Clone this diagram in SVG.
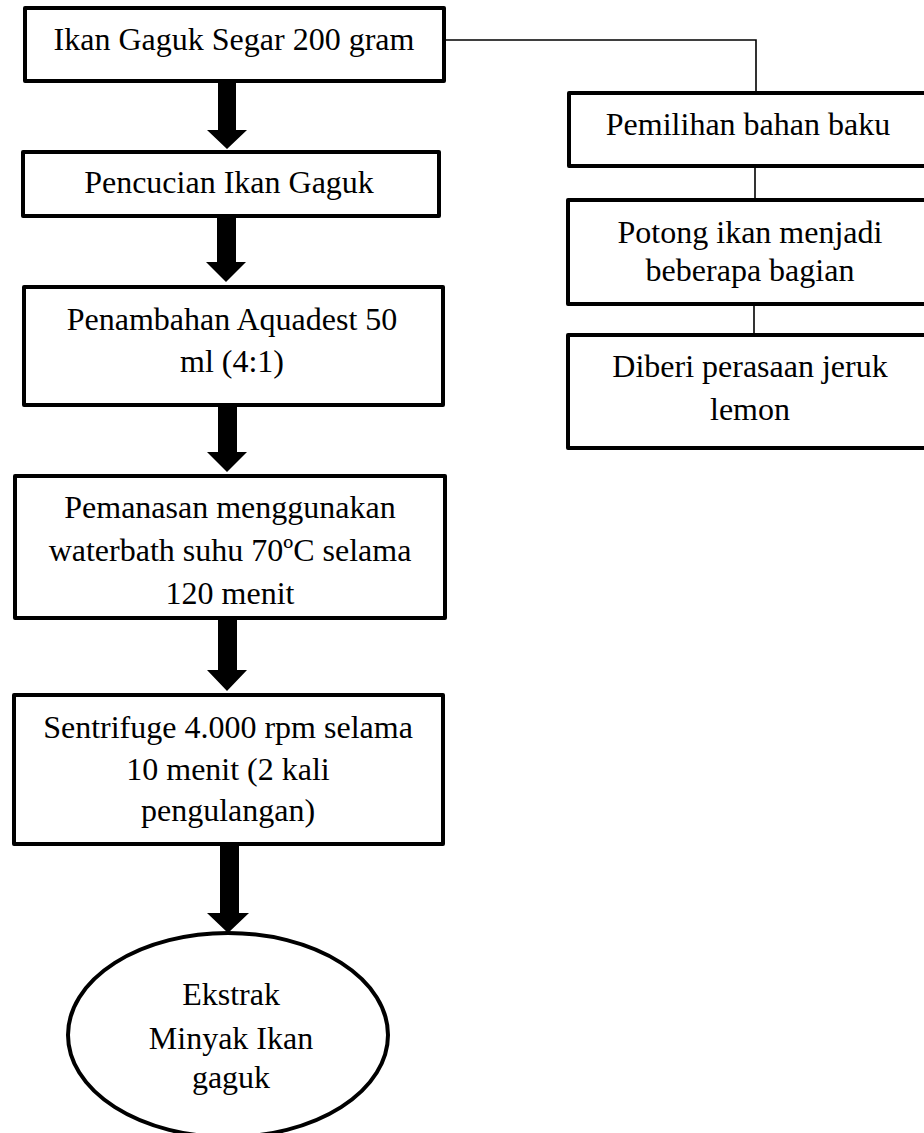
<svg xmlns="http://www.w3.org/2000/svg" width="924" height="1133" viewBox="0 0 924 1133">
<style>
.box{fill:#fff;stroke:#000;stroke-width:4;stroke-linejoin:round}
.t{font-family:"Liberation Serif","Times New Roman",serif;font-size:32px;fill:#000;text-anchor:middle}
.ln{stroke:#000;stroke-width:1.6;fill:none}
.ar{fill:#000}
</style>
<rect width="924" height="1133" fill="#fff"/>
<g id="connectors">
<polyline class="ln" points="444,40 756,40 756,93"/>
<line class="ln" x1="755" y1="166" x2="755" y2="200"/>
<line class="ln" x1="754" y1="304" x2="754" y2="335"/>
<polygon class="ar" points="218,82 236,82 236,130 247,130 227,149 207,130 218,130"/>
<polygon class="ar" points="217,217 236,217 236,262 246,262 226,282 206,262 217,262"/>
<polygon class="ar" points="218,406 237,406 237,452 247,452 227,472 207,452 218,452"/>
<polygon class="ar" points="218,618 237,618 237,670 247,670 227,691 207,670 218,670"/>
<polygon class="ar" points="220,844 239,844 239,913 249,913 228,933 207,913 220,913"/>
</g>
<g id="n1"><rect class="box" x="25" y="8" width="419" height="73"/><text class="t" x="234" y="50">Ikan Gaguk Segar 200 gram</text></g>
<g id="n2"><rect class="box" x="23" y="152" width="416" height="64"/><text class="t" x="229" y="193">Pencucian Ikan Gaguk</text></g>
<g id="n3"><rect class="box" x="24" y="287" width="419" height="118"/><text class="t" x="232" y="330">Penambahan Aquadest 50</text><text class="t" x="232" y="372">ml (4:1)</text></g>
<g id="n4"><rect class="box" x="15" y="476" width="430" height="142"/><text class="t" x="230" y="518">Pemanasan menggunakan</text><text class="t" x="230" y="561">waterbath suhu 70ºC selama</text><text class="t" x="230" y="604">120 menit</text></g>
<g id="n5"><rect class="box" x="14" y="695" width="429" height="149"/><text class="t" x="228" y="738">Sentrifuge 4.000 rpm selama</text><text class="t" x="228" y="780">10 menit (2 kali</text><text class="t" x="228" y="821">pengulangan)</text></g>
<g id="n6"><ellipse class="box" cx="228" cy="1035" rx="160" ry="102"/><text class="t" x="231" y="1005">Ekstrak</text><text class="t" x="231" y="1049">Minyak Ikan</text><text class="t" x="231" y="1088">gaguk</text></g>
<g id="n7"><rect class="box" x="569" y="93" width="370" height="73"/><text class="t" x="748" y="135">Pemilihan bahan baku</text></g>
<g id="n8"><rect class="box" x="568" y="200" width="370" height="104"/><text class="t" x="750" y="243">Potong ikan menjadi</text><text class="t" x="750" y="281">beberapa bagian</text></g>
<g id="n9"><rect class="box" x="568" y="335" width="370" height="113"/><text class="t" x="750" y="377">Diberi perasaan jeruk</text><text class="t" x="750" y="420">lemon</text></g>
</svg>
